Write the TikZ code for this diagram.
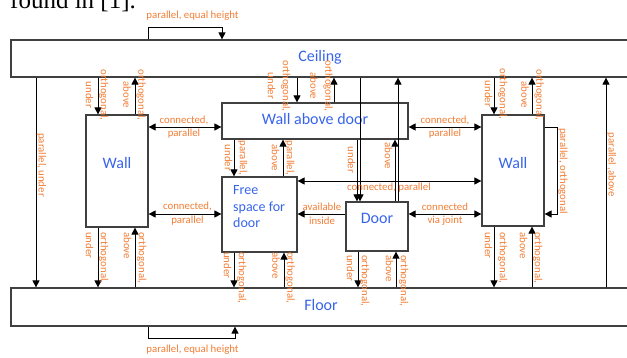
\documentclass[tikz,border=0pt]{standalone}
\usepackage{fontspec}
\setmainfont{Carlito}
\newfontfamily\serifpage{Liberation Serif}
\usetikzlibrary{arrows.meta}
\definecolor{lblorange}{RGB}{242,125,52}
\definecolor{boxblue}{RGB}{55,100,235}
\definecolor{boxline}{RGB}{64,64,64}
\tikzset{
  box/.style={draw=boxline,line width=1.2pt,inner sep=0pt},
  btext/.style={text=boxblue,font=\fontsize{16}{19}\selectfont,inner sep=0pt},
  arr/.style={-{Triangle[length=7pt,width=7pt]},line width=0.8pt},
  darr/.style={{Triangle[length=7pt,width=7pt]}-{Triangle[length=7pt,width=7pt]},line width=0.8pt},
  lbl/.style={text=lblorange,font=\fontsize{10.8}{13.5}\selectfont,inner sep=0pt,align=center},
  vlbl/.style={text=lblorange,font=\fontsize{10.8}{15}\selectfont,inner sep=0pt,align=center,rotate=-90},
  vlbltop/.style={vlbl,align=left,anchor=west}
}
\begin{document}
\begin{tikzpicture}[x=1pt,y=-1pt]
\useasboundingbox (0,0) rectangle (627,358);
\clip (0,0) rectangle (627,358);
\node[anchor=base west,font=\serifpage\fontsize{25}{30}\selectfont,inner sep=0pt] (pagetxt) at (10,9) {found in [1].};

% boxes
\node[box,minimum width=618pt,minimum height=37pt] (ceil) at (320,58.5) {};
\node[box,minimum width=618pt,minimum height=38pt] (floor) at (320,307) {};
\node[box,minimum width=62pt,minimum height=112pt] (wallL) at (117,171) {};
\node[box,minimum width=186pt,minimum height=36pt] (wad) at (315,121) {};
\node[box,minimum width=75pt,minimum height=75pt] (fs) at (259.5,214.5) {};
\node[box,minimum width=62pt,minimum height=49pt] (door) at (377,226.5) {};
\node[box,minimum width=62pt,minimum height=111pt] (wallR) at (513,170.5) {};

% box texts
\node[btext] (tceil) at (320,57) {Ceiling};
\node[btext] (tfloor) at (321,305) {Floor};
\node[btext] (twallL) at (117,163) {Wall};
\node[btext] (twallR) at (513,163) {Wall};
\node[btext] (twad) at (315,119) {Wall above door};
\node[btext] (tdoor) at (377,218) {Door};
\node[btext,anchor=west,align=left,font=\fontsize{14}{16.5}\selectfont] (tfs) at (233,207) {Free\\space for\\door};

% self loops
\draw[arr] (ceil.north -| 148,0) -- ++(0,-12) -| (ceil.north -| 222,0);
\draw[arr] (floor.south -| 148,0) -- ++(0,12) -| (floor.south -| 235,0);
\draw[arr] (wallR.east |- 0,127) -- ++(13,0) |- (wallR.east |- 0,214);

% long side lines
\draw[arr] (ceil.south -| 36,0) -- (floor.north -| 36,0);
\draw[arr] (floor.north -| 606,0) -- (ceil.south -| 606,0);

% ceiling links
\draw[arr] (ceil.south -| 98,0) -- (wallL.north -| 98,0);
\draw[arr] (wallL.north -| 135,0) -- (ceil.south -| 135,0);
\draw[arr] (ceil.south -| 297,0) -- (wad.north -| 297,0);
\draw[arr] (wad.north -| 334,0) -- (ceil.south -| 334,0);
\draw[arr] (ceil.south -| 360,0) -- (door.north -| 360,0);
\draw[arr] (wad.south -| 357,0) -- (door.north -| 357,0);
\draw[arr] (door.north -| 398,0) -- (ceil.south -| 398,0);
\draw[arr] (door.north -| 395,0) -- (wad.south -| 395,0);
\draw[arr] (ceil.south -| 494,0) -- (wallR.north -| 494,0);
\draw[arr] (wallR.north -| 532,0) -- (ceil.south -| 532,0);

% wall above door <-> free space
\draw[arr] (wad.south -| 234,0) -- (fs.north -| 234,0);
\draw[arr] (fs.north -| 283,0) -- (wad.south -| 283,0);

% horizontals
\draw[darr] (wallL.east |- 0,127) -- (wad.west |- 0,127);
\draw[darr] (wallL.east |- 0,214) -- (fs.west |- 0,214);
\draw[darr] (wad.east |- 0,127) -- (wallR.west |- 0,127);
\draw[darr] (fs.east |- 0,181) -- (wallR.west |- 0,181);
\draw[arr] (door.west |- 0,214) -- (fs.east |- 0,214);
\draw[darr] (door.east |- 0,214) -- (wallR.west |- 0,214);

% floor links
\draw[arr] (wallL.south -| 98,0) -- (floor.north -| 98,0);
\draw[arr] (floor.north -| 135,0) -- (wallL.south -| 135,0);
\draw[arr] (fs.south -| 234,0) -- (floor.north -| 234,0);
\draw[arr] (floor.north -| 284,0) -- (fs.south -| 284,0);
\draw[arr] (door.south -| 358,0) -- (floor.north -| 358,0);
\draw[arr] (floor.north -| 396,0) -- (door.south -| 396,0);
\draw[arr] (wallR.south -| 494,0) -- (floor.north -| 494,0);
\draw[arr] (floor.north -| 532,0) -- (wallR.south -| 532,0);

% horizontal labels
\node[lbl] (l1) at (192.5,16) {parallel, equal height};
\node[lbl] (l2) at (192.5,350) {parallel, equal height};
\node[lbl] (l3) at (184,127) {connected,\\parallel};
\node[lbl] (l4) at (187.5,213.5) {connected,\\parallel};
\node[lbl] (l5) at (445,127) {connected,\\parallel};
\node[lbl] (l6) at (389,188) {connected, parallel};
\node[lbl] (l7) at (322,214) {available\\inside};
\node[lbl] (l8) at (445,214) {connected\\via joint};

% vertical labels (top, centred)
\node[vlbl] (v1) at (97,95) {orthogonal,\\under};
\node[vlbl] (v2) at (134.5,95) {orthogonal,\\above};
\node[vlbl] (v3) at (279,86) {orthogonal,\\under};
\node[vlbl] (v4) at (321.5,86) {orthogonal,\\above};
\node[vlbl] (v5) at (496,94) {orthogonal,\\under};
\node[vlbl] (v6) at (532.5,95) {orthogonal,\\above};
\node[vlbl] (v7) at (236,158) {parallel,\\under};
\node[vlbl] (v8) at (283,158) {parallel,\\above};
\node[vlbl] (v9) at (351.5,160) {under};
\node[vlbl] (v10) at (388.5,156) {above};
\node[vlbl] (v11) at (41.5,165) {parallel, under};
\node[vlbl] (v12) at (611.5,165) {parallel ,above};
\node[vlbl] (v13) at (563,171) {parallel, orthogonal};

% vertical labels (bottom, top-aligned)
\node[vlbltop] (b1) at (97,232) {orthogonal,\\under};
\node[vlbltop] (b2) at (135,232) {orthogonal,\\above};
\node[vlbltop] (b3) at (235,252) {orthogonal,\\under};
\node[vlbltop] (b4) at (283.5,252) {orthogonal,\\above};
\node[vlbltop] (b5) at (358,255) {orthogonal,\\under};
\node[vlbltop] (b6) at (397,255) {orthogonal,\\above};
\node[vlbltop] (b7) at (496,232) {orthogonal,\\under};
\node[vlbltop] (b8) at (531,232) {orthogonal,\\above};
\end{tikzpicture}
\end{document}
